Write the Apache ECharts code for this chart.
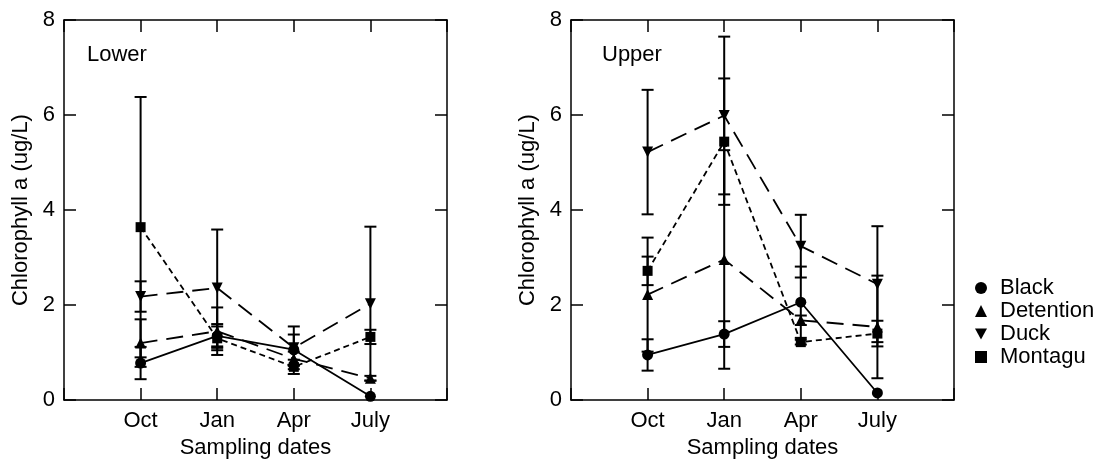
<!DOCTYPE html>
<html lang="en">
<head>
  <meta charset="UTF-8">
  <title>Chlorophyll a</title>
  <style>
    html, body { margin: 0; padding: 0; background: #fff; }
  </style>
</head>
<body>
  <div id="main" style="width: 1101px; height: 464px"></div>
  <script src="https://cdn.jsdelivr.net/npm/echarts@6/dist/echarts.min.js"></script>
  <script>
    // sampling dates (x positions 1..4)
    const months = ['Oct', 'Jan', 'Apr', 'July']
    const sites = ['Black', 'Detention', 'Duck', 'Montagu']

    // Lower panel: means and error (+/-)
    const lowerBlack = [0.78, 1.35, 1.06, 0.08]
    const lowerBlackErr = [0.34, 0.25, 0.32, 0]
    const lowerDetention = [1.2, 1.45, 0.87, 0.46]
    const lowerDetentionErr = [0.5, 0.5, 0.15, 0.05]
    const lowerDuck = [2.18, 2.36, 1.1, 2.03]
    const lowerDuckErr = [0.32, 1.23, 0.45, 1.62]
    const lowerMontagu = [3.64, 1.3, 0.7, 1.33]
    const lowerMontaguErr = [2.74, 0.25, 0.15, 0.15]

    // Upper panel
    const upperBlack = [0.95, 1.39, 2.06, 0.15]
    const upperBlackErr = [0.33, 0.27, 0.75, 0]
    const upperDetention = [2.22, 2.96, 1.68, 1.54]
    const upperDetentionErr = [1.2, 2.3, 0.1, 1.08]
    const upperDuck = [5.22, 5.99, 3.24, 2.44]
    const upperDuckErr = [1.31, 1.66, 0.66, 1.22]
    const upperMontagu = [2.72, 5.44, 1.22, 1.40]
    const upperMontaguErr = [0.3, 1.33, 0.05, 0.27]

    const yTicks = [0, 2, 4, 6, 8]

    const FONT = 'Liberation Sans, Arial, Helvetica, sans-serif'
    const FS = 22
    const downTri = 'path://M0,0 L10,0 L5,9 Z'
    const symbols = {
      Black: { symbol: 'circle', size: 11 },
      Detention: { symbol: 'triangle', size: 11 },
      Duck: { symbol: downTri, size: 11 },
      Montagu: { symbol: 'rect', size: 10 }
    }
    const dashes = {
      Black: 'solid',
      Detention: [17, 9],
      Duck: [17, 9],
      Montagu: [6, 4]
    }

    const myChart = echarts.init(document.getElementById('main'))

    function renderErr(params, api) {
      const x = api.value(0)
      const lo = api.value(1)
      const hi = api.value(2)
      if (hi === lo) return null
      const pLo = api.coord([x, lo])
      const pHi = api.coord([x, hi])
      const hw = 6
      const st = { stroke: '#000', lineWidth: 2 }
      return {
        type: 'group',
        children: [
          { type: 'line', shape: { x1: pHi[0], y1: pHi[1], x2: pLo[0], y2: pLo[1] }, style: st },
          { type: 'line', shape: { x1: pHi[0] - hw, y1: pHi[1], x2: pHi[0] + hw, y2: pHi[1] }, style: st },
          { type: 'line', shape: { x1: pLo[0] - hw, y1: pLo[1], x2: pLo[0] + hw, y2: pLo[1] }, style: st }
        ]
      }
    }

    function makeSeries(panel, idx, name, vals, errs) {
      const pts = vals.map((v, i) => [i + 1, v])
      const bars = vals.map((v, i) => [i + 1, v - errs[i], v + errs[i]])
      const s = symbols[name]
      return [
        {
          type: 'custom',
          name: name + ' err ' + panel,
          xAxisIndex: idx * 2,
          yAxisIndex: idx * 2,
          z: 1,
          silent: true,
          renderItem: renderErr,
          data: bars
        },
        {
          type: 'line',
          name: name,
          xAxisIndex: idx * 2,
          yAxisIndex: idx * 2,
          z: 3,
          data: pts,
          symbol: s.symbol,
          symbolSize: s.size,
          showAllSymbol: true,
          itemStyle: { color: '#000' },
          lineStyle: { color: '#000', width: 1.8, type: dashes[name] }
        }
      ]
    }

    function axesFor(gridIndex) {
      const line = { show: true, onZero: false, lineStyle: { color: '#000', width: 1.5 } }
      const tick = { show: true, inside: true, length: 12, lineStyle: { color: '#000', width: 1.5 } }
      const xa = {
        type: 'value', gridIndex: gridIndex, min: 0, max: 5, interval: 1,
        axisLine: line, axisTick: tick, splitLine: { show: false }
      }
      const ya = {
        type: 'value', gridIndex: gridIndex, min: 0, max: 8, interval: 2,
        axisLine: line, axisTick: tick, splitLine: { show: false }
      }
      return {
        x: [
          Object.assign({}, xa, {
            position: 'bottom',
            name: 'Sampling dates', nameLocation: 'middle', nameGap: 31,
            nameTextStyle: { color: '#000', fontSize: FS, fontFamily: FONT },
            axisLabel: {
              color: '#000', fontSize: FS, fontFamily: FONT, margin: 10,
              formatter: v => months[v - 1] || ''
            }
          }),
          Object.assign({}, xa, { position: 'top', axisLabel: { show: false } })
        ],
        y: [
          Object.assign({}, ya, {
            position: 'left',
            name: 'Chlorophyll a (ug/L)', nameLocation: 'middle', nameGap: 32,
            nameTextStyle: { color: '#000', fontSize: FS, fontFamily: FONT },
            axisLabel: {
              color: '#000', fontSize: FS, fontFamily: FONT, margin: 9,
              formatter: v => yTicks.indexOf(v) >= 0 ? String(v) : ''
            }
          }),
          Object.assign({}, ya, { position: 'right', axisLabel: { show: false } })
        ]
      }
    }

    const a0 = axesFor(0)
    const a1 = axesFor(1)

    // x axes: 0,1 for grid 0; 2,3 for grid 1 (same for y)
    const series = [].concat(
      makeSeries('L', 0, 'Black', lowerBlack, lowerBlackErr),
      makeSeries('L', 0, 'Detention', lowerDetention, lowerDetentionErr),
      makeSeries('L', 0, 'Duck', lowerDuck, lowerDuckErr),
      makeSeries('L', 0, 'Montagu', lowerMontagu, lowerMontaguErr),
      makeSeries('U', 1, 'Black', upperBlack, upperBlackErr),
      makeSeries('U', 1, 'Detention', upperDetention, upperDetentionErr),
      makeSeries('U', 1, 'Duck', upperDuck, upperDuckErr),
      makeSeries('U', 1, 'Montagu', upperMontagu, upperMontaguErr)
    )

    const option = {
      animation: false,
      backgroundColor: '#fff',
      textStyle: { fontFamily: FONT },
      title: [
        { text: 'Lower', left: 82, top: 39, textStyle: { color: '#000', fontSize: FS, fontWeight: 'normal', fontFamily: FONT } },
        { text: 'Upper', left: 597, top: 39, textStyle: { color: '#000', fontSize: FS, fontWeight: 'normal', fontFamily: FONT } }
      ],
      legend: {
        orient: 'vertical',
        left: 970,
        top: 272,
        itemGap: 1,
        itemWidth: 12,
        itemHeight: 12,
        textStyle: { color: '#000', fontSize: FS, fontFamily: FONT, padding: [0, 0, 0, 8] },
        data: sites.map(n => ({
          name: n,
          icon: symbols[n].symbol,
          itemStyle: { color: '#000' }
        }))
      },
      grid: [
        { left: 64, right: 654, top: 20, bottom: 60 },
        { left: 571, right: 147, top: 20, bottom: 60 }
      ],
      xAxis: [a0.x[0], a0.x[1], Object.assign({}, a1.x[0], { gridIndex: 1 }), Object.assign({}, a1.x[1], { gridIndex: 1 })],
      yAxis: [a0.y[0], a0.y[1], Object.assign({}, a1.y[0], { gridIndex: 1 }), Object.assign({}, a1.y[1], { gridIndex: 1 })],
      series: series
    }

    myChart.setOption(option)
  </script>
</body>
</html>
